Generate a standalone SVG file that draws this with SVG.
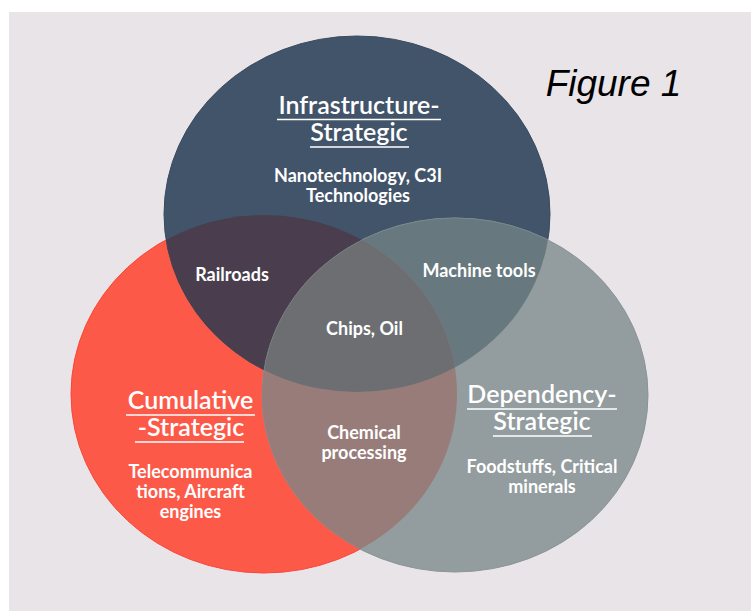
<svg xmlns="http://www.w3.org/2000/svg" width="751" height="611" viewBox="0 0 751 611">
<defs>
<style>
.h{font-family:Lato,"Open Sans",sans-serif;font-size:25px;font-weight:600;fill:#ffffff;text-anchor:middle}
.b{font-family:Lato,"Open Sans",sans-serif;font-size:18px;font-weight:700;fill:#ffffff;text-anchor:middle}
.ul{stroke:#ffffff;stroke-width:1.3}
</style>
<ellipse id="eN" cx="357" cy="214" rx="193" ry="178"/>
<ellipse id="eR" cx="264" cy="394" rx="193" ry="179"/>
<ellipse id="eG" cx="455" cy="395" rx="193" ry="177"/>
<clipPath id="cN"><use href="#eN"/></clipPath>
<clipPath id="cR"><use href="#eR"/></clipPath>
<clipPath id="cG"><use href="#eG"/></clipPath>
</defs>
<rect x="0" y="0" width="751" height="611" fill="#ffffff"/>
<rect x="9" y="12" width="742" height="599" fill="#e9e4e8"/>
<g id="connectors"/>
<g id="node-cumulative">
<use href="#eR" fill="#fd5948" stroke="#fb4636" stroke-width="1"/>
</g>
<g id="node-infrastructure">
<use href="#eN" fill="#42546a" stroke="#3a4b60" stroke-width="1"/>
</g>
<g id="node-dependency">
<use href="#eG" fill="#939c9e" stroke="#8a9497" stroke-width="1"/>
</g>
<g id="overlaps">
<use href="#eN" fill="#4a3e4e" clip-path="url(#cR)"/>
<use href="#eN" fill="#67797f" clip-path="url(#cG)"/>
<use href="#eR" fill="#987c7a" clip-path="url(#cG)"/>
<g clip-path="url(#cG)"><use href="#eN" fill="#6c6e72" clip-path="url(#cR)"/></g>
<use href="#eG" fill="none" stroke="#7c8a8f" stroke-width="1" opacity="0.6" clip-path="url(#cN)"/>
</g>
<g id="labels">
<text class="h" x="359" y="114">Infrastructure-</text>
<line class="ul" x1="277" y1="119.5" x2="441" y2="119.5"/>
<text class="h" x="359" y="141">Strategic</text>
<line class="ul" x1="310" y1="147" x2="409" y2="147"/>
<text class="b" x="358" y="182">Nanotechnology, C3I</text>
<text class="b" x="358" y="202">Technologies</text>
<text class="b" x="232" y="281">Railroads</text>
<text class="b" x="479" y="277">Machine tools</text>
<text class="b" x="364.5" y="335">Chips, Oil</text>
<text class="b" x="364" y="439">Chemical</text>
<text class="b" x="364" y="459">processing</text>
<text class="h" x="190.5" y="409">Cumulative</text>
<line class="ul" x1="126" y1="415" x2="255" y2="415"/>
<text class="h" x="191" y="436">-Strategic</text>
<line class="ul" x1="135" y1="442" x2="244" y2="442"/>
<text class="b" x="190.5" y="478">Telecommunica</text>
<text class="b" x="190.5" y="498">tions, Aircraft</text>
<text class="b" x="190.5" y="518">engines</text>
<text class="h" x="542" y="403">Dependency-</text>
<line class="ul" x1="467" y1="409" x2="617" y2="409"/>
<text class="h" x="542" y="430">Strategic</text>
<line class="ul" x1="493" y1="436" x2="592" y2="436"/>
<text class="b" x="542" y="473">Foodstuffs, Critical</text>
<text class="b" x="542" y="493">minerals</text>
<text x="613.5" y="96" font-family="'Liberation Sans',Arial,sans-serif" font-size="37" font-style="italic" fill="#000000" text-anchor="middle">Figure 1</text>
</g>
</svg>
